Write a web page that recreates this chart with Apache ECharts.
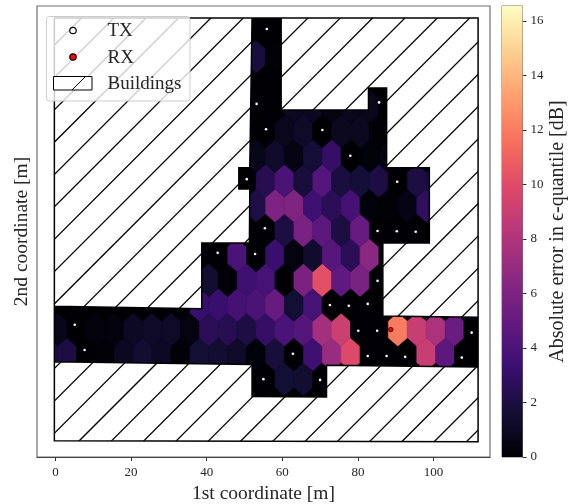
<!DOCTYPE html>
<html><head><meta charset="utf-8">
<style>html,body{margin:0;padding:0;background:#fff}#c{width:580px;height:504px}</style>
<script src="https://cdn.jsdelivr.net/npm/echarts@6/dist/echarts.min.js"></script>
</head><body><div id="c"></div>
<script>
const xTicks = [0, 20, 40, 60, 80, 100];
const barTicks = [0, 2, 4, 6, 8, 10, 12, 14, 16];
const barMax = 16.55;
const magma = ['#000004','#140e36','#3b0f70','#641a80','#8c2981','#b73779','#de4968','#f7705c','#fe9f6d','#fecf92','#fcfdbf'];

const rowY0 = 16.1, rowStep = 6.56, colStep = 5, colEven = 0.56, colOdd = -1.93;
// each row: first column index, then values in dB, bottom row first
const hexRow0  = [11, 0, 1.6, 1.5, 0];
const hexRow1  = [0, 2.0, 2.0, 0, 0.1, 1.0, 1.5, 1.1, 0.1, 1.6, 1.5, 1.2, 0.2, 1.8, 0, 3.4, 7.1, 9.9, 0, 0, 0, 8.9, 4.7, 0, 0];
const hexRow2  = [0, 0.7, 0, 0.3, 0.3, 1.1, 1.2, 1.2, 0.4, 2.6, 2.4, 2.0, 3.0, 3.9, 4.3, 7.5, 9.1, 0, 0, 12, 8.9, 7.8, 5.2, 0];
const hexRow3  = [8, 3.2, 3.2, 3.7, 3.9, 5.1, 1.6, 3.8, 0, 0, 0];
const hexRow4  = [8, 1.5, 0.1, 3.4, 3.8, 0, 5.9, 10.2, 4.8, 5.8, 0];
const hexRow5  = [9, 0, 3.9, 0, 3.2, 0.4, 1.4, 4.4, 2.6, 6.5, 0];
const hexRow6  = [10, 0, 0, 2.0, 5.8, 4.7, 2.0, 5.1, 0, 0, 0, 0];
const hexRow7  = [11, 2.1, 6.0, 6.1, 3.4, 2.6, 3.7, 0.2, 0.1, 0.5, 2.8];
const hexRow8  = [10, 0, 2.4, 3.9, 1.8, 4.3, 1.9, 1.7, 2.0, 0, 2.0, 1.9];
const hexRow9  = [11, 0.7, 1.3, 0.5, 1.7, 3.0, 0, 0.2, 0.4];
const hexRow10 = [11, 0, 0.8, 1.2, 0, 0.9, 0.9, 0.1, 0.1];
const hexRow11 = [11, 0, 0, 1.0, 1.0, 0.4, 0.8, 0.8, 0];
const hexRow12 = [10, 0, 0, 0, 0, 0, 0, 0, 0];
const hexRow13 = [11, 1.8, 0.1];
const hexRow14 = [11, 0, 0];
const hexRows = [hexRow0,hexRow1,hexRow2,hexRow3,hexRow4,hexRow5,hexRow6,hexRow7,hexRow8,hexRow9,hexRow10,hexRow11,hexRow12,hexRow13,hexRow14];

const txPoints = [[55.9,108.7],[53.2,88.9],[85.6,89.3],[55.7,82.2],[70.6,82.0],[78.0,75.2],[50.6,69.0],[90.4,68.3],[55.4,56.0],[85.2,55.3],[90.3,55.2],[95.3,55.1],[42.9,49.5],[52.8,49.2],[85.2,42.1],[72.6,35.7],[77.6,35.5],[82.6,36.0],[80.1,28.9],[85.1,28.9],[110.1,28.4],[5.1,30.5],[7.7,23.8],[62.8,22.8],[82.6,22.2],[87.6,22.2],[92.5,22.0],[107.5,21.8],[55.0,16.1],[70.0,15.9]];
const rxPoints = [[88.7,29.2]];

const outerRing = [[-0.3,-0.2],[111.8,-0.45],[111.8,111.6],[-0.3,111.6]];
const freeRing = [[52.0,111.6],[59.7,111.6],[59.7,87.3],[82.8,87.3],[82.8,93.1],[87.6,93.1],[87.6,72.0],[98.9,72.0],[98.9,52.1],[86.6,52.1],[86.6,32.8],[111.7,32.5],[111.7,19.3],[71.7,19.8],[71.7,11.4],[52.0,11.5],[52.0,20.0],[-0.3,20.7],[-0.3,35.4],[38.7,34.7],[38.7,52.1],[51.3,52.1],[51.4,66.4],[48.5,66.4],[48.5,72.0],[51.4,72.0]];

const serif = '"Liberation Serif","DejaVu Serif",serif';
const ink = '#262626';

const hexData = [];
hexRows.forEach((row, r) => {
  row.slice(1).forEach((v, i) => {
    hexData.push([(r % 2 ? colOdd : colEven) + colStep * (row[0] + i), rowY0 + rowStep * r, v]);
  });
});

function makeHatch() {
  const gap = 32.35, cells = 20, size = Math.round(gap * cells);
  const cv = document.createElement('canvas');
  cv.width = size; cv.height = size;
  const g = cv.getContext('2d');
  g.fillStyle = '#fff'; g.fillRect(0, 0, size, size);
  g.strokeStyle = '#000'; g.lineWidth = 1.25;
  for (let k = -cells; k < 3 * cells; k++) {
    const c = 2.4 + gap * k;
    g.beginPath(); g.moveTo(c, 0); g.lineTo(c - size, size); g.stroke();
  }
  return cv;
}
const hatch = makeHatch();

const pathOf = (pts) => 'M' + pts.map(p => p[0] + ' ' + p[1]).join('L') + 'Z';

const chart = echarts.init(document.getElementById('c'), null, {renderer: 'canvas'});
chart.setOption({
  animation: false,
  backgroundColor: '#fff',
  textStyle: {fontFamily: serif},
  grid: [
    {left: 37, right: 90, top: 6, bottom: 47, outerBoundsMode: 'none', show: true, borderColor: '#6e6e6e', borderWidth: 1.2, backgroundColor: 'transparent'},
    {left: 502, width: 20.5, top: 6, bottom: 47, outerBoundsMode: 'none', show: true, borderColor: '#6e6e6e', borderWidth: 1, backgroundColor: 'transparent'}
  ],
  xAxis: [
    {type: 'value', gridIndex: 0, min: -4.894, max: 114.95, name: '1st coordinate [m]', nameLocation: 'middle', nameGap: 27,
     nameTextStyle: {fontSize: 19.5, color: ink, fontFamily: serif},
     splitLine: {show: false},
     axisLine: {show: true, onZero: false, lineStyle: {color: '#444', width: 1}},
     axisTick: {show: true, length: 4, lineStyle: {color: '#333'}, customValues: xTicks},
     axisLabel: {fontSize: 13, color: ink, margin: 9, fontFamily: serif, customValues: xTicks}},
    {type: 'category', gridIndex: 1, data: ['c'], show: false}
  ],
  yAxis: [
    {type: 'value', gridIndex: 0, min: -4.497, max: 114.8, name: '2nd coordinate [m]', nameLocation: 'middle', nameGap: 5, nameRotate: 90,
     nameTextStyle: {fontSize: 19.5, color: ink, fontFamily: serif},
     splitLine: {show: false}, axisLine: {show: false}, axisTick: {show: false}, axisLabel: {show: false}},
    {type: 'value', gridIndex: 1, min: 0, max: barMax, position: 'right',
     name: 'Absolute error in \u03F5-quantile [dB]', nameLocation: 'middle', nameGap: 25, nameRotate: 90,
     nameTextStyle: {fontSize: 20, color: ink, fontFamily: serif},
     splitLine: {show: false}, axisLine: {show: false},
     axisTick: {show: true, length: 4, lineStyle: {color: '#333'}, customValues: barTicks},
     axisLabel: {fontSize: 13, color: ink, margin: 8, fontFamily: serif, customValues: barTicks}}
  ],
  visualMap: {show: false, seriesIndex: 1, dimension: 2, min: 0, max: barMax, inRange: {color: magma}},
  series: [
    {type: 'custom', name: 'Floor', coordinateSystem: 'cartesian2d', xAxisIndex: 0, yAxisIndex: 0, silent: true, z: 1,
     data: [[0, 0]], encode: {x: 0, y: 1},
     renderItem: (p, api) => ({type: 'polygon', shape: {points: freeRing.map(q => api.coord(q))}, style: {fill: '#000004'}})},
    {type: 'custom', name: 'Absolute error', coordinateSystem: 'cartesian2d', xAxisIndex: 0, yAxisIndex: 0, silent: true, z: 2,
     data: hexData, encode: {x: 0, y: 1},
     renderItem: (p, api) => {
       const x = api.value(0), y = api.value(1), w = colStep / 2, e = rowStep / 3, t = rowStep * 2 / 3;
       const pts = [[x + w, y - e], [x + w, y + e], [x, y + t], [x - w, y + e], [x - w, y - e], [x, y - t]].map(q => api.coord(q));
       const c = api.visual('color');
       return {type: 'polygon', shape: {points: pts}, style: {fill: c, stroke: c, lineWidth: 0.6},
               clipPath: {type: 'polygon', shape: {points: freeRing.map(q => api.coord(q))}}};
     }},
    {type: 'custom', name: 'Buildings', coordinateSystem: 'cartesian2d', xAxisIndex: 0, yAxisIndex: 0, silent: true, z: 3,
     data: [[0, 0]], encode: {x: 0, y: 1},
     renderItem: (p, api) => {
       const outer = outerRing.map(q => api.coord(q));
       const free = freeRing.map(q => api.coord(q));
       return {type: 'path', shape: {pathData: pathOf(outer) + pathOf(free)},
               style: {fill: {image: hatch, repeat: 'repeat'}, stroke: '#000', lineWidth: 1.5}};
     }},
    {type: 'scatter', name: 'TX', xAxisIndex: 0, yAxisIndex: 0, data: txPoints, symbolSize: 2.6, z: 4, silent: true,
     itemStyle: {color: '#fff', borderWidth: 0, opacity: 1}},
    {type: 'scatter', name: 'RX', xAxisIndex: 0, yAxisIndex: 0, data: rxPoints, symbolSize: 4.5, z: 5, silent: true,
     itemStyle: {color: '#f00', borderColor: '#300', borderWidth: 0.8, opacity: 1}},
    {type: 'bar', name: 'Colorbar', xAxisIndex: 1, yAxisIndex: 1, data: [barMax], barWidth: '100%', z: 1, silent: true,
     itemStyle: {color: {type: 'linear', x: 0, y: 1, x2: 0, y2: 0,
       colorStops: magma.map((c, i) => ({offset: i / (magma.length - 1), color: c}))}}}
  ],
  graphic: {elements: [
    {type: 'rect', z: 50, shape: {x: 46.5, y: 16.5, width: 143.5, height: 84.5, r: 3}, style: {fill: 'rgba(255,255,255,0.8)', stroke: '#cccccc', lineWidth: 1}},
    {type: 'circle', z: 51, shape: {cx: 73, cy: 30.5, r: 3.2}, style: {fill: '#fff', stroke: '#000', lineWidth: 1.2}},
    {type: 'circle', z: 51, shape: {cx: 73, cy: 57, r: 3.2}, style: {fill: '#f00', stroke: '#000', lineWidth: 1.2}},
    {type: 'rect', z: 51, shape: {x: 53.5, y: 76.5, width: 38.5, height: 13.5}, style: {fill: '#fff', stroke: '#000', lineWidth: 1}},
    {type: 'line', z: 52, shape: {x1: 72, y1: 90, x2: 85.5, y2: 76.5}, style: {stroke: '#000', lineWidth: 1}},
    {type: 'text', z: 52, x: 107.5, y: 31, style: {text: 'TX', fontSize: 19, fontFamily: serif, fill: ink, verticalAlign: 'middle'}},
    {type: 'text', z: 52, x: 107.5, y: 58, style: {text: 'RX', fontSize: 19, fontFamily: serif, fill: ink, verticalAlign: 'middle'}},
    {type: 'text', z: 52, x: 107.5, y: 84.5, style: {text: 'Buildings', fontSize: 19, fontFamily: serif, fill: ink, verticalAlign: 'middle'}}
  ]}
});
</script></body></html>
